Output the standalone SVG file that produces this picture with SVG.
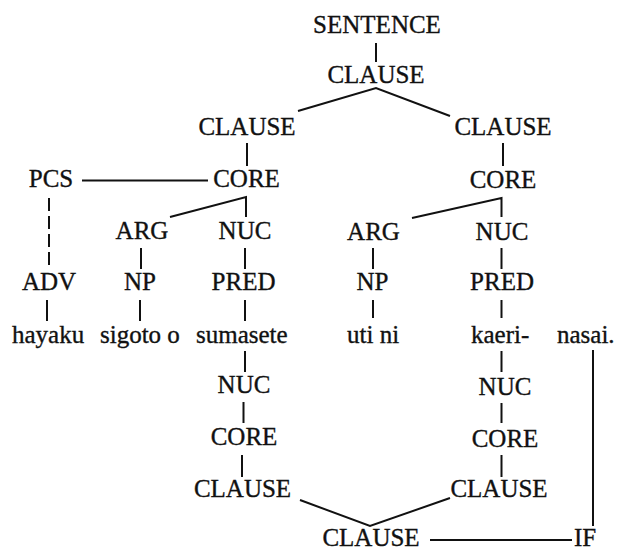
<svg xmlns="http://www.w3.org/2000/svg" width="620" height="552" viewBox="0 0 620 552">
<style>
  .bg { fill: #ffffff; }
  text { font-family: "Liberation Serif", "Times New Roman", serif; font-size: 25px; fill: #111; stroke: #111; stroke-width: 0.35px; }
  .c { text-anchor: middle; }
  .s { text-anchor: start; }
  .ln { stroke: #111; stroke-width: 2; fill: none; stroke-linecap: butt; }
  .dash { stroke-dasharray: 13 5; }
</style>
<rect class="bg" x="0" y="0" width="620" height="552"/>
<g id="connectors">
  <line class="ln" x1="376" y1="43" x2="376" y2="62"/>
  <polyline class="ln" points="298,111 376,88 450,116"/>
  <line class="ln" x1="247" y1="143" x2="247" y2="166"/>
  <line class="ln" x1="503" y1="143" x2="503" y2="166"/>
  <line class="ln" x1="82" y1="180.5" x2="208" y2="180.5"/>
  <line class="ln dash" x1="49" y1="198" x2="49" y2="268"/>
  <polyline class="ln" points="170,217 246,197 246,217"/>
  <polyline class="ln" points="412,218 501.5,198 501.5,217"/>
  <line class="ln" x1="141" y1="248" x2="141" y2="269"/>
  <line class="ln" x1="245" y1="248" x2="245" y2="269"/>
  <line class="ln" x1="373" y1="248" x2="373" y2="269"/>
  <line class="ln" x1="501.5" y1="248" x2="501.5" y2="269"/>
  <line class="ln" x1="47" y1="300" x2="47" y2="321"/>
  <line class="ln" x1="140" y1="300" x2="140" y2="321"/>
  <line class="ln" x1="245" y1="300" x2="245" y2="321"/>
  <line class="ln" x1="373" y1="300" x2="373" y2="318"/>
  <line class="ln" x1="501.5" y1="300" x2="501.5" y2="318"/>
  <line class="ln" x1="245" y1="351" x2="245" y2="372"/>
  <line class="ln" x1="501.5" y1="351" x2="501.5" y2="372"/>
  <line class="ln" x1="243.5" y1="402" x2="243.5" y2="423"/>
  <line class="ln" x1="501.5" y1="403" x2="501.5" y2="423"/>
  <line class="ln" x1="242" y1="455" x2="242" y2="477"/>
  <line class="ln" x1="501.5" y1="455" x2="501.5" y2="477"/>
  <polyline class="ln" points="300,500 370,526 450,498"/>
  <line class="ln" x1="430" y1="540" x2="572" y2="540"/>
  <line class="ln" x1="593" y1="350" x2="593" y2="526"/>
</g>
<g id="sentence"><text class="c" x="377" y="33">SENTENCE</text></g>
<g id="clause-top"><text class="c" x="376" y="83">CLAUSE</text></g>
<g id="clause-left"><text class="c" x="247" y="135">CLAUSE</text></g>
<g id="clause-right"><text class="c" x="503" y="135">CLAUSE</text></g>
<g id="pcs"><text class="c" x="51" y="187">PCS</text></g>
<g id="core-left"><text class="c" x="246.5" y="187">CORE</text></g>
<g id="core-right"><text class="c" x="503" y="188">CORE</text></g>
<g id="arg-left"><text class="c" x="142" y="239">ARG</text></g>
<g id="nuc-left"><text class="c" x="245" y="239">NUC</text></g>
<g id="arg-right"><text class="c" x="373.5" y="240">ARG</text></g>
<g id="nuc-right"><text class="c" x="502" y="240">NUC</text></g>
<g id="adv"><text class="c" x="49" y="290">ADV</text></g>
<g id="np-left"><text class="c" x="140" y="290">NP</text></g>
<g id="pred-left"><text class="c" x="243.5" y="290">PRED</text></g>
<g id="np-right"><text class="c" x="372.5" y="290">NP</text></g>
<g id="pred-right"><text class="c" x="502" y="290">PRED</text></g>
<g id="w-hayaku"><text class="s" x="12" y="342.5">hayaku</text></g>
<g id="w-sigoto"><text class="s" x="100" y="342.5">sigoto o</text></g>
<g id="w-sumasete"><text class="s" x="196" y="342.5">sumasete</text></g>
<g id="w-uti"><text class="s" x="347" y="343">uti ni</text></g>
<g id="w-kaeri"><text class="s" x="471" y="343">kaeri-</text></g>
<g id="w-nasai"><text class="s" x="557" y="343">nasai.</text></g>
<g id="nuc-low-left"><text class="c" x="244" y="393">NUC</text></g>
<g id="nuc-low-right"><text class="c" x="505" y="395">NUC</text></g>
<g id="core-low-left"><text class="c" x="244" y="445">CORE</text></g>
<g id="core-low-right"><text class="c" x="505" y="446.5">CORE</text></g>
<g id="clause-low-left"><text class="c" x="242.5" y="496.5">CLAUSE</text></g>
<g id="clause-low-right"><text class="c" x="499" y="496.5">CLAUSE</text></g>
<g id="clause-bottom"><text class="c" x="371" y="546">CLAUSE</text></g>
<g id="if"><text class="s" x="574" y="546">IF</text></g>
</svg>
